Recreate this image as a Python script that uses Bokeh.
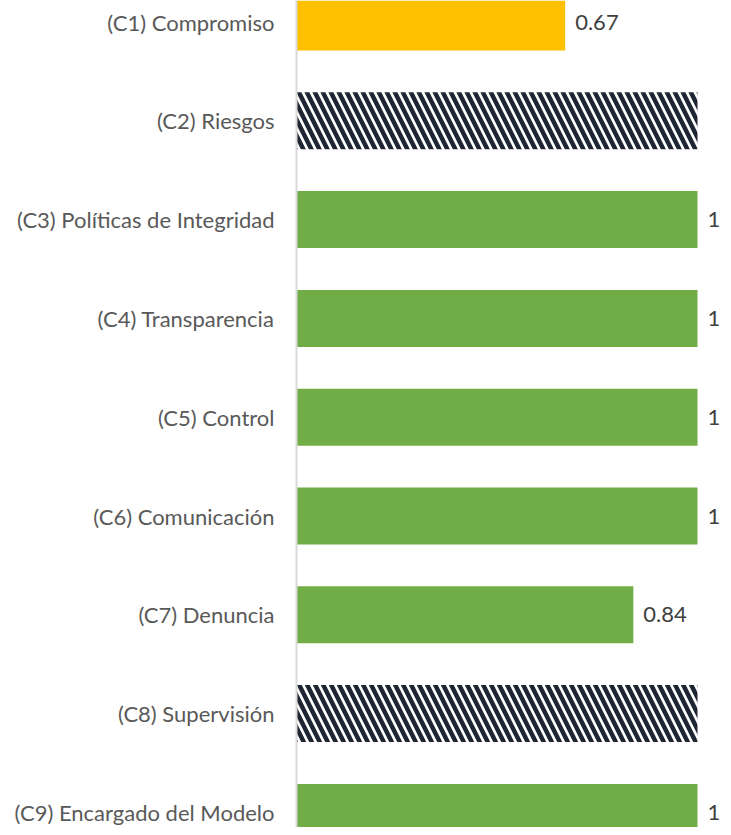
from bokeh.plotting import figure
from bokeh.models import Range1d, FixedTicker, ColumnDataSource
from bokeh.core.properties import value
from bokeh.embed import file_html
from bokeh.resources import INLINE

categories = [
    "(C1) Compromiso",
    "(C2) Riesgos",
    "(C3) Políticas de Integridad",
    "(C4) Transparencia",
    "(C5) Control",
    "(C6) Comunicación",
    "(C7) Denuncia",
    "(C8) Supervisión",
    "(C9) Encargado del Modelo",
]
scores = [0.67, 1, 1, 1, 1, 1, 0.84, 1, 1]
evaluated = [True, False, True, True, True, True, True, False, True]
value_labels = ["0.67", "", "1", "1", "1", "1", "0.84", "", "1"]

YELLOW = "#FFC000"
GREEN = "#70AD47"
FONT = "Lato"
FSIZE = "22px"

pos = list(range(1, len(categories) + 1))

W, H = 723, 827
left = 296
ppu = 401.0
ppu_y = 98.8
top = 1 - 21.5 / ppu_y

p = figure(width=W, height=H, output_backend="svg", toolbar_location=None,
           x_range=Range1d(0, (W - left) / ppu),
           y_range=Range1d(top + H / ppu_y, top),
           x_axis_location=None, min_border_left=left, min_border_right=0,
           min_border_top=0, min_border_bottom=0)
p.outline_line_color = None
p.xgrid.visible = False
p.ygrid.visible = False
p.background_fill_color = "white"
p.border_fill_color = "white"

bar_h = 57 / ppu_y

ev_y = [y for y, e in zip(pos, evaluated) if e]
ev_v = [v for v, e in zip(scores, evaluated) if e]
ev_c = [YELLOW if v < 0.7 else GREEN for v in ev_v]
ev_l = [l for l, e in zip(value_labels, evaluated) if e]
src = ColumnDataSource(dict(y=ev_y, v=ev_v, c=ev_c, l=ev_l))
p.hbar(y="y", left=0, right="v", height=bar_h, fill_color="c", line_color=None, source=src)

na_y = [y for y, e in zip(pos, evaluated) if not e]
na_v = [v for v, e in zip(scores, evaluated) if not e]
p.hbar(y=na_y, left=0, right=na_v, height=bar_h, fill_color="white", line_color=None,
       hatch_pattern="\\", hatch_color="#1f2633", hatch_scale=16, hatch_weight=4.5)

p.text(x="v", y="y", text="l", source=src, x_offset=10, text_align="left",
       text_baseline="middle", text_font=value(FONT), text_font_size=FSIZE,
       text_color="#404040")

ax = p.yaxis[0]
ax.ticker = FixedTicker(ticks=pos)
ax.major_label_overrides = {y: c for y, c in zip(pos, categories)}
ax.major_tick_line_color = None
ax.minor_tick_line_color = None
ax.major_tick_out = 0
ax.major_tick_in = 0
ax.major_label_standoff = 22
ax.axis_line_color = "#D9D9D9"
ax.axis_line_width = 2
ax.major_label_text_font = FONT
ax.major_label_text_font_size = FSIZE
ax.major_label_text_color = "#595959"

open("out.html", "w").write(file_html(p, INLINE))
